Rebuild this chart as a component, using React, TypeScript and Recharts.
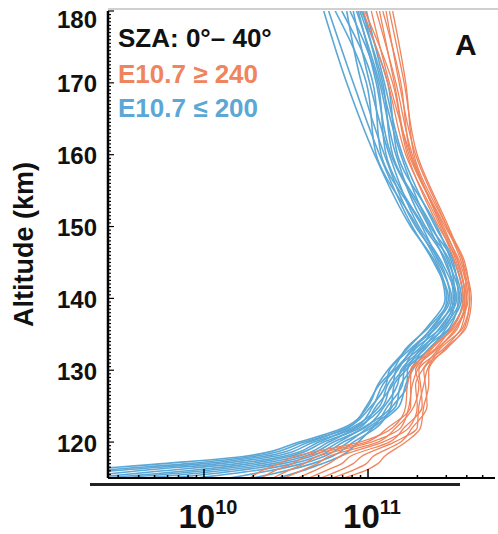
import { Line, LineChart, XAxis, YAxis } from "recharts";

// altitude levels (km) at which the profiles are sampled
const ALTITUDES = [115, 116, 117, 118, 120, 122, 125, 128, 130, 133, 136, 140, 145, 150, 160, 170, 180];

// log10 of density, one row per profile, E10.7 <= 200 (blue)
const LOW_FLUX_PROFILES = [
  [8.9, 9.2, 9.75, 10.24, 10.58, 10.85, 11.0, 11.06, 11.12, 11.24, 11.36, 11.47, 11.41, 11.26, 11.04, 10.87, 10.73],
  [9.0, 9.35, 9.9, 10.3, 10.61, 10.88, 10.99, 11.07, 11.15, 11.23, 11.37, 11.49, 11.4, 11.27, 11.07, 10.91, 10.76],
  [9.1, 9.45, 10.0, 10.36, 10.64, 10.87, 11.02, 11.11, 11.13, 11.26, 11.4, 11.48, 11.42, 11.3, 11.05, 10.99, 10.8],
  [9.2, 9.6, 10.1, 10.42, 10.67, 10.92, 11.03, 11.09, 11.16, 11.28, 11.39, 11.5, 11.44, 11.29, 11.1, 10.96, 10.87],
  [9.3, 9.75, 10.2, 10.48, 10.7, 10.9, 11.07, 11.12, 11.18, 11.27, 11.42, 11.51, 11.43, 11.33, 11.08, 11.03, 10.84],
  [9.4, 9.9, 10.28, 10.52, 10.73, 10.95, 11.05, 11.15, 11.17, 11.31, 11.41, 11.53, 11.45, 11.31, 11.13, 11.01, 10.91],
  [9.5, 10.0, 10.35, 10.57, 10.76, 10.93, 11.09, 11.14, 11.21, 11.29, 11.45, 11.52, 11.48, 11.34, 11.11, 11.06, 10.89],
  [9.65, 10.1, 10.42, 10.61, 10.79, 10.98, 11.1, 11.18, 11.2, 11.33, 11.44, 11.54, 11.47, 11.37, 11.14, 11.05, 10.94],
  [9.8, 10.2, 10.48, 10.65, 10.82, 10.97, 11.14, 11.16, 11.23, 11.32, 11.47, 11.53, 11.5, 11.35, 11.17, 11.07, 10.93],
  [9.95, 10.3, 10.54, 10.69, 10.85, 11.02, 11.12, 11.21, 11.22, 11.35, 11.46, 11.56, 11.49, 11.39, 11.15, 11.09, 10.95],
  [10.15, 10.4, 10.6, 10.73, 10.88, 11.0, 11.17, 11.2, 11.26, 11.34, 11.5, 11.55, 11.52, 11.38, 11.2, 11.08, 10.97],
  [10.3, 10.5, 10.66, 10.78, 10.91, 11.05, 11.15, 11.24, 11.24, 11.38, 11.48, 11.57, 11.51, 11.42, 11.18, 11.12, 10.96],
  [10.45, 10.6, 10.72, 10.83, 10.94, 11.03, 11.19, 11.23, 11.27, 11.37, 11.51, 11.58, 11.53, 11.41, 11.21, 11.1, 10.99],
];

// log10 of density, E10.7 >= 240 (orange)
const HIGH_FLUX_PROFILES = [
  [10.28, 10.35, 10.46, 10.55, 10.95, 11.15, 11.23, 11.24, 11.27, 11.38, 11.52, 11.58, 11.53, 11.44, 11.23, 11.12, 10.97],
  [10.35, 10.43, 10.54, 10.62, 10.99, 11.12, 11.26, 11.26, 11.26, 11.41, 11.51, 11.59, 11.55, 11.43, 11.24, 11.15, 10.98],
  [10.42, 10.51, 10.61, 10.69, 11.02, 11.2, 11.25, 11.27, 11.3, 11.39, 11.53, 11.6, 11.54, 11.45, 11.26, 11.13, 11.02],
  [10.49, 10.59, 10.69, 10.76, 11.06, 11.17, 11.28, 11.31, 11.29, 11.42, 11.55, 11.59, 11.55, 11.46, 11.25, 11.16, 11.07],
  [10.57, 10.67, 10.76, 10.83, 11.09, 11.25, 11.3, 11.29, 11.33, 11.43, 11.54, 11.61, 11.56, 11.45, 11.27, 11.17, 11.05],
  [10.64, 10.74, 10.84, 10.89, 11.13, 11.22, 11.33, 11.32, 11.31, 11.46, 11.57, 11.6, 11.58, 11.47, 11.26, 11.2, 11.09],
  [10.71, 10.82, 10.91, 10.96, 11.16, 11.3, 11.31, 11.34, 11.36, 11.44, 11.58, 11.62, 11.57, 11.48, 11.29, 11.19, 11.11],
  [10.78, 10.9, 10.99, 11.03, 11.2, 11.27, 11.36, 11.35, 11.34, 11.48, 11.59, 11.62, 11.59, 11.48, 11.28, 11.23, 11.15],
  [10.85, 10.98, 11.06, 11.1, 11.23, 11.32, 11.34, 11.37, 11.37, 11.47, 11.6, 11.63, 11.58, 11.49, 11.3, 11.22, 11.13],
];

const DECADES = [9, 10, 11];
const MINOR_STEPS = [1, 2, 3, 4, 5, 6, 7, 8, 9];
const X_DOMAIN: [number, number] = [9.415, 11.774];
const Y_DOMAIN: [number, number] = [115, 180];

const Y_TITLE = "Altitude (km)";
const LEGEND = ["SZA: 0°– 40°", "E10.7 ≥ 240", "E10.7 ≤ 200"];
const PANEL = "A";

const BLUE = "#5ba7d5";
const ORANGE = "#f0845c";
const FONT = '"Liberation Sans", Arial, Helvetica, sans-serif';

const xTicks = DECADES.flatMap((d) => MINOR_STEPS.map((k) => d + Math.log10(k))).filter(
  (v) => v >= X_DOMAIN[0] && v <= X_DOMAIN[1]
);
const yTicks: number[] = [];
for (let a = Y_DOMAIN[0]; a <= Y_DOMAIN[1]; a += 0.5) yTicks.push(a);

const rows = ALTITUDES.map((alt, i) => {
  const row: Record<string, number> = { alt };
  LOW_FLUX_PROFILES.forEach((p, j) => (row[`low${j}`] = p[i]));
  HIGH_FLUX_PROFILES.forEach((p, j) => (row[`high${j}`] = p[i]));
  return row;
});

function BottomTick({ x, y, payload }: any) {
  const v = payload.value;
  const major = Math.abs(v - Math.round(v)) < 1e-9;
  return (
    <g>
      <line x1={x} y1={y} x2={x} y2={y - (major ? 9 : 3)} stroke="#000" strokeWidth={1.5} />
      {major ? (
        <text x={x + 4} y={y + 50} textAnchor="middle" fontSize={33} fontWeight="bold" fontFamily={FONT} fill="#111">
          10
          <tspan dy={-14} fontSize={20}>
            {Math.round(v)}
          </tspan>
        </text>
      ) : null}
    </g>
  );
}

function TopTick({ x, y, payload }: any) {
  const v = payload.value;
  const major = Math.abs(v - Math.round(v)) < 1e-9;
  return <line x1={x} y1={y} x2={x} y2={y + (major ? 7 : 3)} stroke="#000" strokeWidth={1.5} />;
}

function LeftTick({ x, y, payload }: any) {
  const v = payload.value;
  const major = v % 10 === 0;
  return (
    <g>
      <line x1={x} y1={y} x2={x + (major ? 6 : 3)} y2={y} stroke="#000" strokeWidth={1.2} />
      {major ? (
        <text x={x - 11} y={v === 180 ? y + 17 : y + 9.5} textAnchor="end" fontSize={24} fontWeight="bold" fontFamily={FONT} fill="#111">
          {v}
        </text>
      ) : null}
    </g>
  );
}

function RightTick({ x, y, payload }: any) {
  const major = payload.value % 10 === 0;
  return <line x1={x} y1={y} x2={x - (major ? 5 : 2)} y2={y} stroke="#000" strokeWidth={1.2} />;
}

export default function App() {
  return (
    <div style={{ position: "absolute", left: 0, top: 0, width: 498, height: 534, background: "#fff" }}>
      <LineChart layout="vertical" width={498} height={534} data={rows} margin={{ top: 11, right: 3, bottom: 0, left: 0 }}>
        <XAxis
          xAxisId="x"
          type="number"
          domain={X_DOMAIN}
          allowDataOverflow
          ticks={xTicks}
          interval={0}
          tick={<BottomTick />}
          tickLine={false}
          tickSize={0}
          tickMargin={0}
          height={56}
          axisLine={{ stroke: "#000", strokeWidth: 2 }}
        />
        <XAxis
          xAxisId="top"
          orientation="top"
          type="number"
          domain={X_DOMAIN}
          allowDataOverflow
          ticks={xTicks}
          interval={0}
          tick={<TopTick />}
          tickLine={false}
          tickSize={0}
          tickMargin={0}
          height={0}
          axisLine={{ stroke: "#000", strokeWidth: 2.5 }}
        />
        <YAxis
          yAxisId="y"
          dataKey="alt"
          type="number"
          domain={Y_DOMAIN}
          reversed
          allowDataOverflow
          ticks={yTicks}
          interval={0}
          tick={<LeftTick />}
          tickLine={false}
          tickSize={0}
          tickMargin={0}
          width={108}
          axisLine={{ stroke: "#000", strokeWidth: 2.5 }}
        />
        <YAxis
          yAxisId="right"
          orientation="right"
          type="number"
          domain={Y_DOMAIN}
          reversed
          allowDataOverflow
          ticks={yTicks}
          interval={0}
          tick={<RightTick />}
          tickLine={false}
          tickSize={0}
          tickMargin={0}
          width={0}
          axisLine={false}
        />
        {LOW_FLUX_PROFILES.map((_, j) => (
          <Line
            key={`low${j}`}
            xAxisId="x"
            yAxisId="y"
            dataKey={`low${j}`}
            type="monotone"
            stroke={BLUE}
            strokeWidth={1.6}
            dot={false}
            activeDot={false}
            isAnimationActive={false}
          />
        ))}
        {HIGH_FLUX_PROFILES.map((_, j) => (
          <Line
            key={`high${j}`}
            xAxisId="x"
            yAxisId="y"
            dataKey={`high${j}`}
            type="monotone"
            stroke={ORANGE}
            strokeWidth={1.3}
            dot={false}
            activeDot={false}
            isAnimationActive={false}
          />
        ))}
      </LineChart>
      <svg width={498} height={534} style={{ position: "absolute", left: 0, top: 0, pointerEvents: "none" }}>
        <line x1={108} y1={9} x2={498} y2={9} stroke="#d0d0d0" strokeWidth={2} />
        <line x1={90} y1={484.5} x2={460} y2={484.5} stroke="#222" strokeWidth={3} />
        <text transform="translate(33,327) rotate(-90)" fontSize={27} fontWeight="bold" fontFamily={FONT} fill="#111">
          {Y_TITLE}
        </text>
        <text x={118} y={47} fontSize={26} fontWeight="bold" fontFamily={FONT} fill="#111">
          {LEGEND[0]}
        </text>
        <text x={118} y={83} fontSize={26} fontWeight="bold" fontFamily={FONT} fill={ORANGE}>
          {LEGEND[1]}
        </text>
        <text x={118} y={117} fontSize={26} fontWeight="bold" fontFamily={FONT} fill={BLUE}>
          {LEGEND[2]}
        </text>
        <text x={455} y={55} fontSize={30} fontWeight="bold" fontFamily={FONT} fill="#111">
          {PANEL}
        </text>
      </svg>
    </div>
  );
}
